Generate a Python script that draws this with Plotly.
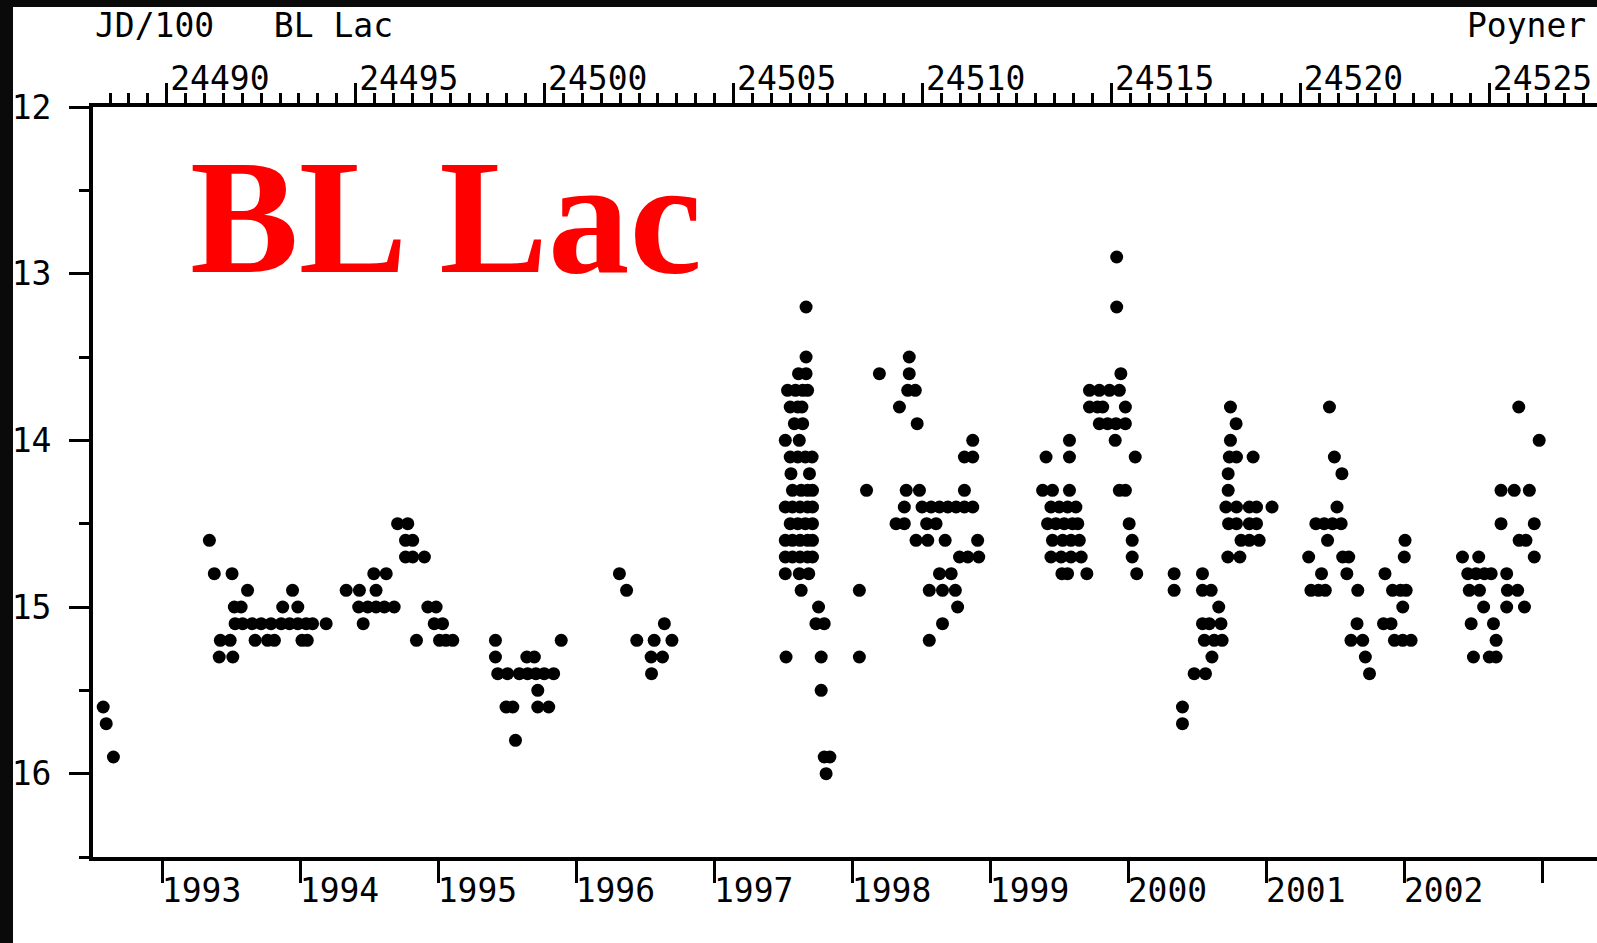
import datetime as dt
import plotly.graph_objects as go

# Visual estimates of BL Lac: time in JD/100 and magnitude, one pair of lists per season
jd_1992 = [24488.32, 24488.40, 24488.59]
mag_1992 = [15.6, 15.7, 15.9]

jd_1993 = [24491.13,
           24491.26, 24491.73,
           24492.14, 24493.33,
           24491.79, 24491.97, 24493.07, 24493.47,
           24491.81, 24492.01, 24492.26, 24492.50, 24492.76, 24493.03, 24493.25,
           24493.47, 24493.69, 24493.86, 24494.22,
           24491.42, 24491.68, 24492.34, 24492.67, 24492.85, 24493.58, 24493.72,
           24491.39, 24491.75]
mag_1993 = [14.6,
            14.8, 14.8,
            14.9, 14.9,
            15.0, 15.0, 15.0, 15.0,
            15.1, 15.1, 15.1, 15.1, 15.1, 15.1, 15.1,
            15.1, 15.1, 15.1, 15.1,
            15.2, 15.2, 15.2, 15.2, 15.2, 15.2, 15.2,
            15.3, 15.3]

jd_1994 = [24496.11, 24496.38,
           24496.32, 24496.51,
           24496.32, 24496.51, 24496.82,
           24495.48, 24495.81,
           24494.75, 24495.10, 24495.54,
           24495.08, 24495.32, 24495.54, 24495.76, 24496.02, 24496.91, 24497.13,
           24495.20, 24497.08, 24497.30,
           24496.61, 24497.22, 24497.39, 24497.57]
mag_1994 = [14.5, 14.5,
            14.6, 14.6,
            14.7, 14.7, 14.7,
            14.8, 14.8,
            14.9, 14.9, 14.9,
            15.0, 15.0, 15.0, 15.0, 15.0, 15.0, 15.0,
            15.1, 15.1, 15.1,
            15.2, 15.2, 15.2, 15.2]

jd_1995 = [24498.70, 24500.44,
           24498.70, 24499.53, 24499.73,
           24498.76, 24499.02, 24499.33, 24499.55, 24499.77, 24499.99, 24500.24,
           24499.82,
           24498.98, 24499.16, 24499.82, 24500.11,
           24499.23]
mag_1995 = [15.2, 15.2,
            15.3, 15.3, 15.3,
            15.4, 15.4, 15.4, 15.4, 15.4, 15.4, 15.4,
            15.5,
            15.6, 15.6, 15.6, 15.6,
            15.8]

jd_1996 = [24501.98, 24502.17, 24503.17,
           24502.44, 24502.90, 24503.37,
           24502.82, 24503.12,
           24502.83]
mag_1996 = [14.8, 14.9, 15.1,
            15.2, 15.2, 15.2,
            15.3, 15.3,
            15.4]

jd_1997 = [24506.92,
           24506.92,
           24506.72, 24506.92,
           24506.43, 24506.64, 24506.83, 24506.96,
           24506.50, 24506.70, 24506.81,
           24506.61, 24506.83,
           24506.37, 24506.74,
           24506.50, 24506.70, 24506.90, 24507.08,
           24506.52, 24507.01,
           24506.56, 24506.79, 24506.96, 24507.09,
           24506.37, 24506.56, 24506.76, 24506.96, 24507.09,
           24506.50, 24506.70, 24506.90, 24507.09,
           24506.37, 24506.56, 24506.76, 24506.96, 24507.09,
           24506.37, 24506.56, 24506.76, 24506.96, 24507.09,
           24506.37, 24506.74, 24506.99,
           24506.79,
           24507.25,
           24507.18, 24507.40,
           24506.39, 24507.32,
           24507.32,
           24507.40, 24507.55,
           24507.45]
mag_1997 = [13.2,
            13.5,
            13.6, 13.6,
            13.7, 13.7, 13.7, 13.7,
            13.8, 13.8, 13.8,
            13.9, 13.9,
            14.0, 14.0,
            14.1, 14.1, 14.1, 14.1,
            14.2, 14.2,
            14.3, 14.3, 14.3, 14.3,
            14.4, 14.4, 14.4, 14.4, 14.4,
            14.5, 14.5, 14.5, 14.5,
            14.6, 14.6, 14.6, 14.6, 14.6,
            14.7, 14.7, 14.7, 14.7, 14.7,
            14.8, 14.8, 14.8,
            14.9,
            15.0,
            15.1, 15.1,
            15.3, 15.3,
            15.5,
            15.9, 15.9,
            16.0]

jd_1998 = [24509.65,
           24508.86, 24509.65,
           24509.61, 24509.81,
           24509.39,
           24509.86,
           24511.33,
           24511.11, 24511.33,
           24508.52, 24509.57, 24509.92, 24511.11,
           24509.52, 24509.99, 24510.23, 24510.45, 24510.67, 24510.89, 24511.11, 24511.33,
           24509.30, 24509.52, 24510.11, 24510.36,
           24509.83, 24510.14, 24510.60, 24511.46,
           24510.98, 24511.20, 24511.49,
           24510.45, 24510.76,
           24508.33, 24510.18, 24510.53, 24510.87,
           24510.93,
           24510.53,
           24510.18,
           24508.33]
mag_1998 = [13.5,
            13.6, 13.6,
            13.7, 13.7,
            13.8,
            13.9,
            14.0,
            14.1, 14.1,
            14.3, 14.3, 14.3, 14.3,
            14.4, 14.4, 14.4, 14.4, 14.4, 14.4, 14.4, 14.4,
            14.5, 14.5, 14.5, 14.5,
            14.6, 14.6, 14.6, 14.6,
            14.7, 14.7, 14.7,
            14.8, 14.8,
            14.9, 14.9, 14.9, 14.9,
            15.0,
            15.1,
            15.2,
            15.3]

jd_1999 = [24515.14,
           24515.14,
           24515.25,
           24514.42, 24514.68, 24514.95, 24515.21,
           24514.42, 24514.63, 24514.77, 24515.37,
           24514.68, 24514.90, 24515.12, 24515.37,
           24513.89, 24515.10,
           24513.27, 24513.89, 24515.63,
           24513.18, 24513.44, 24513.89, 24515.21, 24515.37,
           24513.40, 24513.62, 24513.84, 24514.06,
           24513.31, 24513.53, 24513.75, 24513.97, 24514.11, 24515.47,
           24513.44, 24513.71, 24513.93, 24514.15, 24515.55,
           24513.40, 24513.67, 24513.93, 24514.20, 24515.55,
           24513.69, 24513.84, 24514.35, 24515.67]
mag_1999 = [12.9,
            13.2,
            13.6,
            13.7, 13.7, 13.7, 13.7,
            13.8, 13.8, 13.8, 13.8,
            13.9, 13.9, 13.9, 13.9,
            14.0, 14.0,
            14.1, 14.1, 14.1,
            14.3, 14.3, 14.3, 14.3, 14.3,
            14.4, 14.4, 14.4, 14.4,
            14.5, 14.5, 14.5, 14.5, 14.5, 14.5,
            14.6, 14.6, 14.6, 14.6, 14.6,
            14.7, 14.7, 14.7, 14.7, 14.7,
            14.8, 14.8, 14.8, 14.8]

jd_2000 = [24518.15,
           24518.30,
           24518.15,
           24518.12, 24518.31, 24518.75,
           24518.09,
           24518.09,
           24518.03, 24518.31, 24518.65, 24518.84, 24519.25,
           24518.10, 24518.31, 24518.65, 24518.84,
           24518.43, 24518.65, 24518.91,
           24518.08, 24518.40,
           24516.66, 24517.41,
           24516.66, 24517.41, 24517.64,
           24517.84,
           24517.41, 24517.59, 24517.90,
           24517.46, 24517.72, 24517.93,
           24517.66,
           24517.19, 24517.49,
           24516.88,
           24516.88]
mag_2000 = [13.8,
            13.9,
            14.0,
            14.1, 14.1, 14.1,
            14.2,
            14.3,
            14.4, 14.4, 14.4, 14.4, 14.4,
            14.5, 14.5, 14.5, 14.5,
            14.6, 14.6, 14.6,
            14.7, 14.7,
            14.8, 14.8,
            14.9, 14.9, 14.9,
            15.0,
            15.1, 15.1, 15.1,
            15.2, 15.2, 15.2,
            15.3,
            15.4, 15.4,
            15.6,
            15.7]

jd_2001 = [24520.77,
           24520.90,
           24521.10,
           24520.97,
           24520.41, 24520.63, 24520.85, 24521.08,
           24520.72, 24522.77,
           24520.22, 24521.12, 24521.28, 24522.75,
           24520.56, 24521.23, 24522.24,
           24520.28, 24520.48, 24520.66, 24521.52, 24522.44, 24522.65, 24522.80,
           24522.71,
           24521.50, 24522.20, 24522.40,
           24521.34, 24521.65, 24522.49, 24522.71, 24522.93,
           24521.72,
           24521.83]
mag_2001 = [13.8,
            14.1,
            14.2,
            14.4,
            14.5, 14.5, 14.5, 14.5,
            14.6, 14.6,
            14.7, 14.7, 14.7, 14.7,
            14.8, 14.8, 14.8,
            14.9, 14.9, 14.9, 14.9, 14.9, 14.9, 14.9,
            15.0,
            15.1, 15.1, 15.1,
            15.2, 15.2, 15.2, 15.2, 15.2,
            15.3,
            15.4]

jd_2002 = [24525.78,
           24526.32,
           24525.31, 24525.66, 24526.06,
           24525.31, 24526.19,
           24525.79, 24525.97,
           24524.29, 24524.72, 24526.19,
           24524.43, 24524.65, 24524.87, 24525.05, 24525.46,
           24524.47, 24524.74, 24525.48, 24525.75,
           24524.85, 24525.46, 24525.93,
           24524.52, 24525.11,
           24525.18,
           24524.58, 24525.00, 24525.18]
mag_2002 = [13.8,
            14.0,
            14.3, 14.3, 14.3,
            14.5, 14.5,
            14.6, 14.6,
            14.7, 14.7, 14.7,
            14.8, 14.8, 14.8, 14.8, 14.8,
            14.9, 14.9, 14.9, 14.9,
            15.0, 15.0, 15.0,
            15.1, 15.1,
            15.2,
            15.3, 15.3, 15.3]

# Axis labelling
year_labels = ["1993", "1994", "1995", "1996", "1997", "1998", "1999",
               "2000", "2001", "2002", ""]
jd_top_ticks = [24490, 24495, 24500, 24505, 24510, 24515, 24520, 24525]
mag_ticks = [12, 13, 14, 15, 16]


def jd100_of_new_year(year):
    """Julian Date / 100 at 0h UT on 1 January of the given year."""
    days = (dt.date(year, 1, 1) - dt.date(2000, 1, 1)).days
    return (2451544.5 + days) / 100.0


year_ticks = [jd100_of_new_year(1993 + i) for i in range(len(year_labels))]

seasons = [(jd_1992, mag_1992), (jd_1993, mag_1993), (jd_1994, mag_1994),
           (jd_1995, mag_1995), (jd_1996, mag_1996), (jd_1997, mag_1997),
           (jd_1998, mag_1998), (jd_1999, mag_1999), (jd_2000, mag_2000),
           (jd_2001, mag_2001), (jd_2002, mag_2002)]
jd_all = [j for s in seasons for j in s[0]]
mag_all = [m for s in seasons for m in s[1]]

W, H = 1597, 943
L, R, T, B = 93, 0, 107, 86
PW, PH = W - L - R, H - T - B
X_RANGE = [24488.05, 24527.85]

MONO = "DejaVu Sans Mono"
LABEL_SIZE = 33

fig = go.Figure()
fig.add_trace(go.Scatter(
    x=jd_all, y=mag_all, mode="markers",
    marker=dict(color="black", size=13, line=dict(width=0)),
    hoverinfo="x+y", showlegend=False,
))


def px_x(p):
    return (p - L) / PW


def px_y(p):
    return (H - B - p) / PH


fig.update_layout(
    width=W, height=H,
    margin=dict(l=L, r=R, t=T, b=B, pad=0),
    paper_bgcolor="white", plot_bgcolor="white",
    showlegend=False,
    font=dict(family=MONO, size=LABEL_SIZE, color="black"),
    xaxis=dict(
        range=X_RANGE, tickmode="array", tickvals=year_ticks, ticktext=year_labels,
        ticks="outside", ticklen=22, tickwidth=3, tickcolor="black",
        ticklabelposition="outside right", ticklabelstandoff=1, ticklabelshift=-4,
        showline=True, linewidth=4, linecolor="black",
        showgrid=False, zeroline=False,
        tickfont=dict(family=MONO, size=LABEL_SIZE, color="black"),
    ),
    xaxis2=dict(
        range=X_RANGE, overlaying="x", side="top", anchor="y",
        tickmode="array", tickvals=jd_top_ticks, ticktext=[str(v) for v in jd_top_ticks],
        ticks="outside", ticklen=20, tickwidth=3, tickcolor="black",
        ticklabelposition="outside right", ticklabelstandoff=0, ticklabelshift=0,
        minor=dict(tickmode="linear", tick0=24488.0, dtick=0.5, ticks="outside",
                   ticklen=10, tickwidth=3, tickcolor="black", showgrid=False),
        showline=True, linewidth=4, linecolor="black",
        showgrid=False, zeroline=False,
        tickfont=dict(family=MONO, size=LABEL_SIZE, color="black"),
    ),
    yaxis=dict(
        range=[16.5, 12], tickmode="array", tickvals=mag_ticks,
        ticktext=[str(v) for v in mag_ticks],
        ticks="outside", ticklen=20, tickwidth=3, tickcolor="black",
        ticklabelstandoff=11,
        minor=dict(tickmode="linear", tick0=12, dtick=0.5, ticks="outside",
                   ticklen=10, tickwidth=3, tickcolor="black", showgrid=False),
        showline=True, linewidth=4, linecolor="black",
        showgrid=False, zeroline=False,
        tickfont=dict(family=MONO, size=LABEL_SIZE, color="black"),
    ),
)

# invisible trace so the top axis is drawn
fig.add_trace(go.Scatter(x=[X_RANGE[0]], y=[12], xaxis="x2", yaxis="y",
                         mode="markers", marker=dict(opacity=0),
                         hoverinfo="skip", showlegend=False))

# dark frame strips along the left and top edges
fig.add_shape(type="rect", xref="paper", yref="paper", layer="above",
              x0=px_x(0), x1=px_x(13), y0=px_y(H), y1=px_y(0),
              fillcolor="#0a0a0a", line=dict(width=0))
fig.add_shape(type="rect", xref="paper", yref="paper", layer="above",
              x0=px_x(0), x1=px_x(W), y0=px_y(7), y1=px_y(0),
              fillcolor="#0a0a0a", line=dict(width=0))

fig.add_annotation(text="JD/100   BL Lac", xref="paper", yref="paper",
                   x=px_x(93), y=px_y(25), xanchor="left", yanchor="middle",
                   showarrow=False, font=dict(family=MONO, size=LABEL_SIZE, color="black"))
fig.add_annotation(text="Poyner", xref="paper", yref="paper",
                   x=px_x(1588), y=px_y(25), xanchor="right", yanchor="middle",
                   showarrow=False, font=dict(family=MONO, size=LABEL_SIZE, color="black"))
fig.add_annotation(text="<b>BL Lac</b>", xref="paper", yref="paper",
                   x=px_x(188), y=px_y(217), xanchor="left", yanchor="middle",
                   showarrow=False,
                   font=dict(family="Liberation Serif", size=163, color="#ff0000"))

fig.write_html("out.html", config={"displayModeBar": False})
